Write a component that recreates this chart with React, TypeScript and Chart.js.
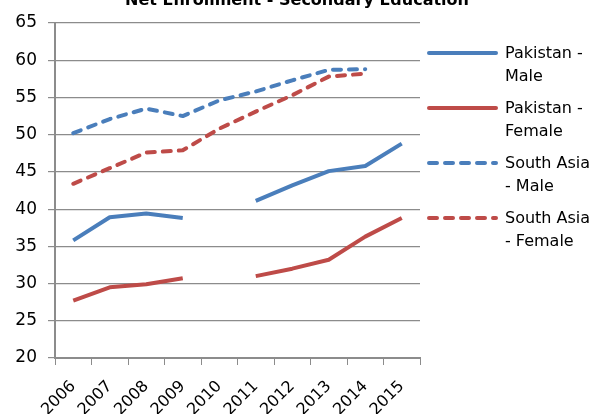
import React, { useEffect, useRef } from "react";
import { Chart, registerables } from "chart.js";

Chart.register(...registerables);

const titleText = "Net Enrollment - Secondary Education";
const years = ["2006", "2007", "2008", "2009", "2010", "2011", "2012", "2013", "2014", "2015"];
const pakistanMale = [35.8, 38.9, 39.4, 38.8, null, 41.1, 43.2, 45.1, 45.8, 48.8];
const pakistanFemale = [27.7, 29.5, 29.9, 30.7, null, 31.0, 32.0, 33.2, 36.3, 38.8];
const southAsiaMale = [50.2, 52.1, 53.5, 52.5, 54.6, 55.8, 57.3, 58.7, 58.8, null];
const southAsiaFemale = [43.4, 45.5, 47.6, 47.9, 50.8, 53.1, 55.3, 57.8, 58.2, null];
const legendLines = [
  ["Pakistan -", "Male"],
  ["Pakistan -", "Female"],
  ["South Asia", "- Male"],
  ["South Asia", "- Female"],
];

const BLUE = "#4A7EBB";
const RED = "#BE4B48";
const GRID = "#8C8C8C";
const FONT = "'DejaVu Sans', sans-serif";

const customPlugin = {
  id: "customDecor",
  afterDraw(chart: any) {
    const ctx = chart.ctx as CanvasRenderingContext2D;
    ctx.save();
    ctx.fillStyle = "#000";
    ctx.font = `bold 16px ${FONT}`;
    ctx.textAlign = "center";
    ctx.textBaseline = "alphabetic";
    ctx.fillText(titleText, 297, 5);
    const rowY = [53, 108, 163, 218];
    chart.data.datasets.forEach((ds: any, i: number) => {
      const y = rowY[i];
      ctx.beginPath();
      ctx.strokeStyle = ds.borderColor;
      ctx.lineWidth = 4;
      ctx.lineCap = "round";
      ctx.setLineDash(ds.borderDash || []);
      ctx.moveTo(429, y);
      ctx.lineTo(496, y);
      ctx.stroke();
      ctx.setLineDash([]);
      ctx.fillStyle = "#000";
      ctx.font = `16px ${FONT}`;
      ctx.textAlign = "left";
      ctx.textBaseline = "middle";
      const lines = legendLines[i];
      lines.forEach((t, j) => {
        ctx.fillText(t, 505, y + 1 + j * 23);
      });
    });
    ctx.restore();
  },
};

export default function App() {
  const ref = useRef<HTMLCanvasElement | null>(null);
  useEffect(() => {
    if (!ref.current) return;
    const mk = (label: string, data: any[], color: string, dashed: boolean) => ({
      label,
      data,
      borderColor: color,
      backgroundColor: color,
      borderWidth: 4,
      borderDash: dashed ? [8, 8] : [],
      borderCapStyle: dashed ? "round" : "butt",
      borderJoinStyle: "round",
      pointRadius: 0,
      pointHoverRadius: 0,
      tension: 0,
      spanGaps: false,
      fill: false,
    });
    const chart = new Chart(ref.current, {
      type: "line",
      data: {
        labels: years,
        datasets: [
          mk("Pakistan - Male", pakistanMale, BLUE, false),
          mk("Pakistan - Female", pakistanFemale, RED, false),
          mk("South Asia - Male", southAsiaMale, BLUE, true),
          mk("South Asia - Female", southAsiaFemale, RED, true),
        ] as any,
      },
      options: {
        animation: false,
        responsive: false,
        layout: { padding: { top: 23, right: 174, left: 0, bottom: 0 } },
        plugins: { legend: { display: false }, title: { display: false }, tooltip: { enabled: false } },
        scales: {
          x: {
            offset: true,
            afterFit: (s: any) => {
              s.height = 56;
            },
            grid: { drawOnChartArea: false, drawTicks: true, tickLength: 7, color: GRID, offset: true },
            border: { color: GRID, width: 2 },
            ticks: {
              color: "#000",
              font: { family: FONT, size: 16 },
              maxRotation: 45,
              minRotation: 45,
              padding: 12,
              autoSkip: false,
            },
          },
          y: {
            min: 20,
            max: 65,
            afterFit: (s: any) => {
              s.width = 55;
            },
            grid: { color: GRID, lineWidth: 1.2, tickLength: 7 },
            border: { color: GRID, width: 2 },
            ticks: { stepSize: 5, color: "#000", font: { family: FONT, size: 17 }, padding: 11 },
          },
        },
      },
      plugins: [customPlugin],
    });
    return () => chart.destroy();
  }, []);
  return (
    <div style={{ position: "absolute", left: 0, top: 0, width: 594, height: 414, background: "#fff" }}>
      <canvas ref={ref} width={594} height={414} />
    </div>
  );
}
